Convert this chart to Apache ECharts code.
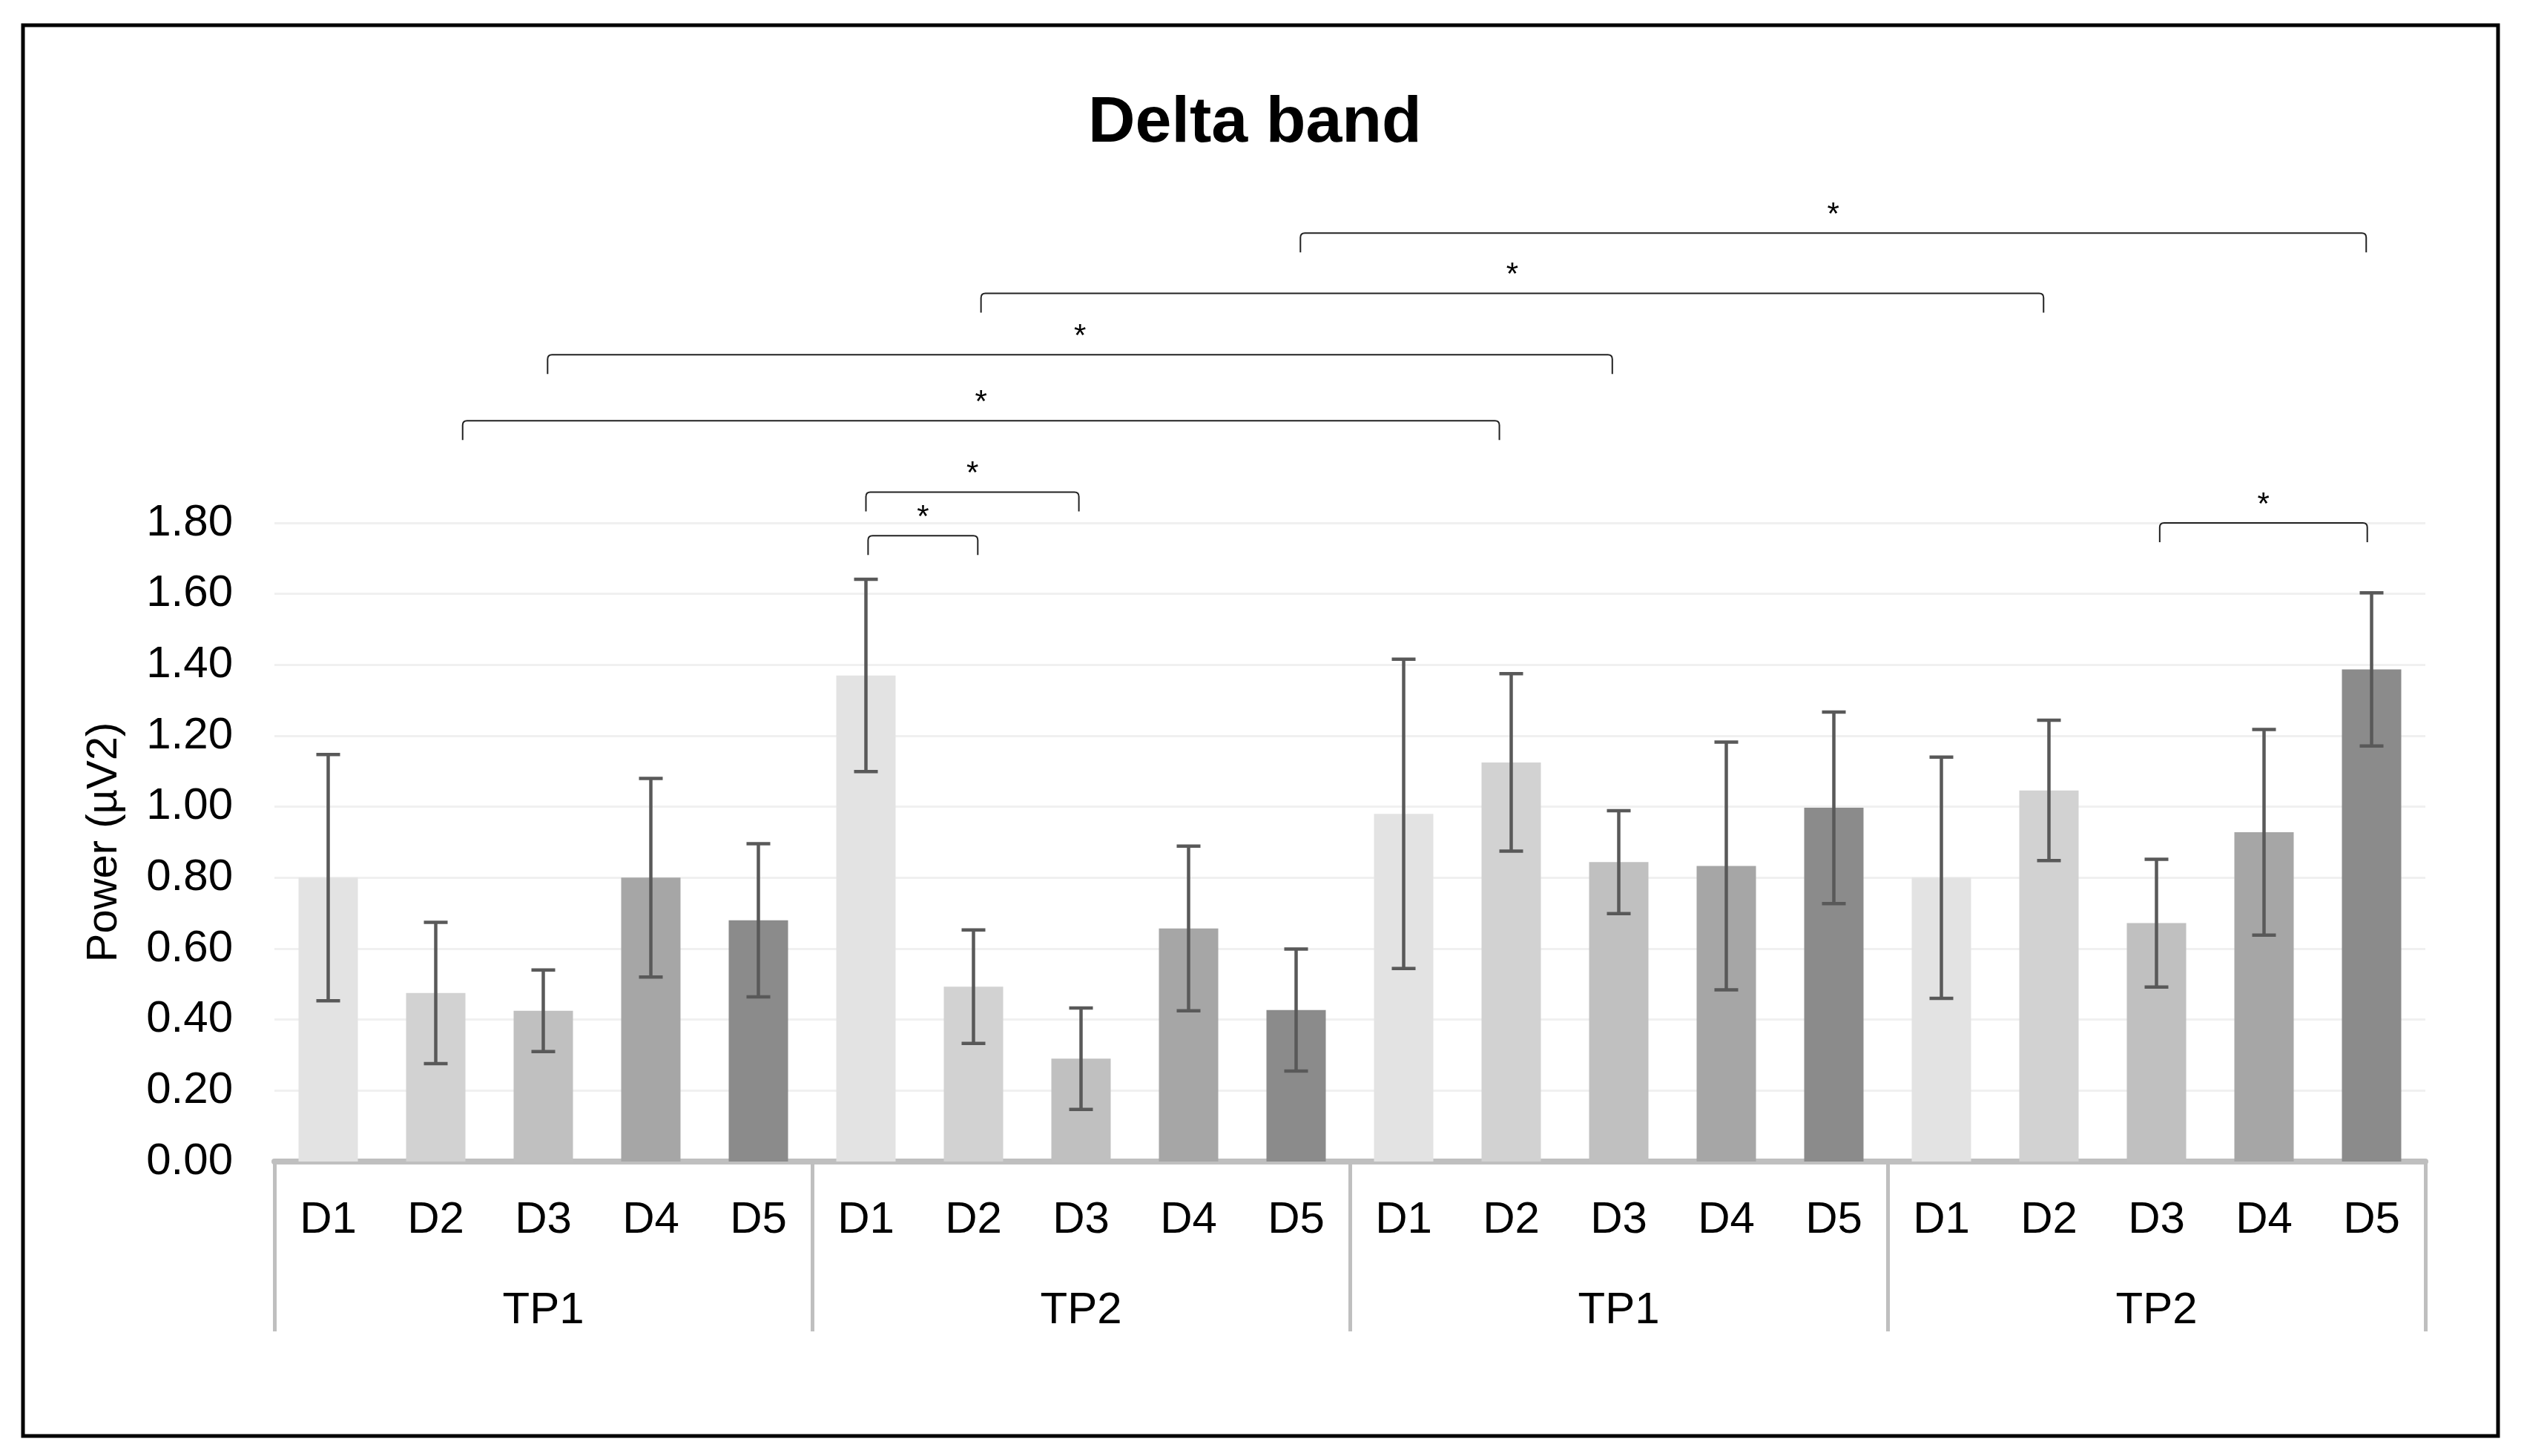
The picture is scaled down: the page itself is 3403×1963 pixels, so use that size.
<!DOCTYPE html>
<html>
<head>
<meta charset="utf-8">
<script src="https://cdn.jsdelivr.net/npm/echarts@6/dist/echarts.min.js"></script>
<style>
  html, body { margin: 0; padding: 0; background: #fff; }
  #chart { width: 3403px; height: 1963px; }
</style>
</head>
<body>
<div id="chart"></div>
<script>
// 类目 / 分组
const dLabels = ['D1', 'D2', 'D3', 'D4', 'D5'];
const groupLabels = ['TP1', 'TP2', 'TP1', 'TP2'];
// 均值 和 标准差
const means = [0.80, 0.475, 0.425, 0.80, 0.68,
  1.37, 0.493, 0.29, 0.657, 0.427,
  0.98, 1.125, 0.844, 0.833, 0.997,
  0.80, 1.046, 0.672, 0.928, 1.387];
const sds = [0.347, 0.199, 0.115, 0.28, 0.216,
  0.271, 0.16, 0.143, 0.232, 0.172,
  0.436, 0.25, 0.145, 0.349, 0.27,
  0.34, 0.198, 0.18, 0.29, 0.216];
// 显著性括号：起点、终点（类目位置）、高度（数值）
const bracketStart = [9.04, 6.07, 2.04, 1.25, 5.0, 5.02, 17.03];
const bracketEnd = [18.95, 15.95, 11.94, 10.89, 6.98, 6.04, 18.96];
const bracketLevel = [2.617, 2.447, 2.274, 2.088, 1.887, 1.764, 1.80];

const barColors = ['#e3e3e3', '#d2d2d2', '#c0c0c0', '#a6a6a6', '#8b8b8b'];
const FONT = '"Liberation Sans", Arial, sans-serif';

const categories = [];
groupLabels.forEach(function () {
  dLabels.forEach(function (d) { categories.push(d); });
});

const myChart = echarts.init(document.getElementById('chart'));

const option = {
  backgroundColor: '#fff',
  animation: false,
  title: {
    text: 'Delta band',
    left: 1462,
    top: 118,
    textStyle: { fontSize: 88, fontWeight: 'bold', color: '#000', fontFamily: FONT }
  },
  graphic: [{
    type: 'rect',
    shape: { x: 31, y: 34, width: 3337, height: 1902 },
    style: { fill: 'none', stroke: '#000', lineWidth: 5 },
    silent: true
  }],
  grid: { left: 370, right: 133, top: 705, bottom: 397 },
  xAxis: [{
    type: 'category',
    data: categories,
    position: 'bottom',
    axisLine: { lineStyle: { color: '#bfbfbf', width: 8 } },
    axisTick: { show: false },
    axisLabel: { margin: 49, fontSize: 60, color: '#000', fontFamily: FONT, interval: 0 }
  }, {
    type: 'category',
    data: groupLabels,
    position: 'bottom',
    axisLine: { show: false },
    axisTick: { show: true, length: 229, lineStyle: { color: '#bfbfbf', width: 5 } },
    axisLabel: { margin: 171, fontSize: 60, color: '#000', fontFamily: FONT }
  }, {
    type: 'value',
    min: -0.5,
    max: 19.5,
    show: false
  }],
  yAxis: {
    type: 'value',
    min: 0,
    max: 1.8,
    interval: 0.2,
    name: 'Power (µV2)',
    nameLocation: 'middle',
    nameGap: 200,
    nameTextStyle: { fontSize: 58, color: '#000', fontFamily: FONT },
    axisLine: { show: false },
    axisTick: { show: false },
    axisLabel: {
      margin: 56, fontSize: 60, color: '#000', fontFamily: FONT,
      formatter: function (v) { return v.toFixed(2); }
    },
    splitLine: { lineStyle: { color: '#f0f0f0', width: 3 } }
  },
  series: [{
    type: 'bar',
    data: means,
    barWidth: 80,
    itemStyle: {
      color: function (p) { return barColors[p.dataIndex % 5]; }
    },
    z: 2
  }, {
    // 误差线
    type: 'custom',
    xAxisIndex: 0,
    data: means.map(function (m, i) { return [i, m - sds[i], m + sds[i]]; }),
    renderItem: function (params, api) {
      const lo = api.coord([api.value(0), api.value(1)]);
      const hi = api.coord([api.value(0), api.value(2)]);
      const hw = 16;
      const st = { stroke: '#595959', lineWidth: 4.5 };
      return {
        type: 'group',
        children: [
          { type: 'line', shape: { x1: lo[0], y1: lo[1], x2: hi[0], y2: hi[1] }, style: st },
          { type: 'line', shape: { x1: lo[0] - hw, y1: lo[1], x2: lo[0] + hw, y2: lo[1] }, style: st },
          { type: 'line', shape: { x1: hi[0] - hw, y1: hi[1], x2: hi[0] + hw, y2: hi[1] }, style: st }
        ]
      };
    },
    z: 3
  }, {
    // 显著性括号
    type: 'custom',
    xAxisIndex: 2,
    clip: false,
    data: bracketStart.map(function (s, i) { return [s, bracketEnd[i], bracketLevel[i]]; }),
    renderItem: function (params, api) {
      const a = api.coord([api.value(0), api.value(2)]);
      const b = api.coord([api.value(1), api.value(2)]);
      const y = a[1];
      const leg = 26, r = 6;
      const path = 'M' + a[0] + ' ' + (y + leg) + ' L' + a[0] + ' ' + (y + r) +
        ' Q' + a[0] + ' ' + y + ' ' + (a[0] + r) + ' ' + y +
        ' L' + (b[0] - r) + ' ' + y +
        ' Q' + b[0] + ' ' + y + ' ' + b[0] + ' ' + (y + r) +
        ' L' + b[0] + ' ' + (y + leg);
      return {
        type: 'group',
        children: [{
          type: 'path',
          shape: { pathData: path },
          style: { fill: 'none', stroke: '#222', lineWidth: 2 }
        }, {
          type: 'text',
          style: {
            text: '*', x: (a[0] + b[0]) / 2, y: y - 24,
            textAlign: 'center', textVerticalAlign: 'middle',
            font: '42px ' + FONT, fill: '#000'
          }
        }]
      };
    },
    z: 4
  }]
};
myChart.setOption(option);
</script>
</body>
</html>
